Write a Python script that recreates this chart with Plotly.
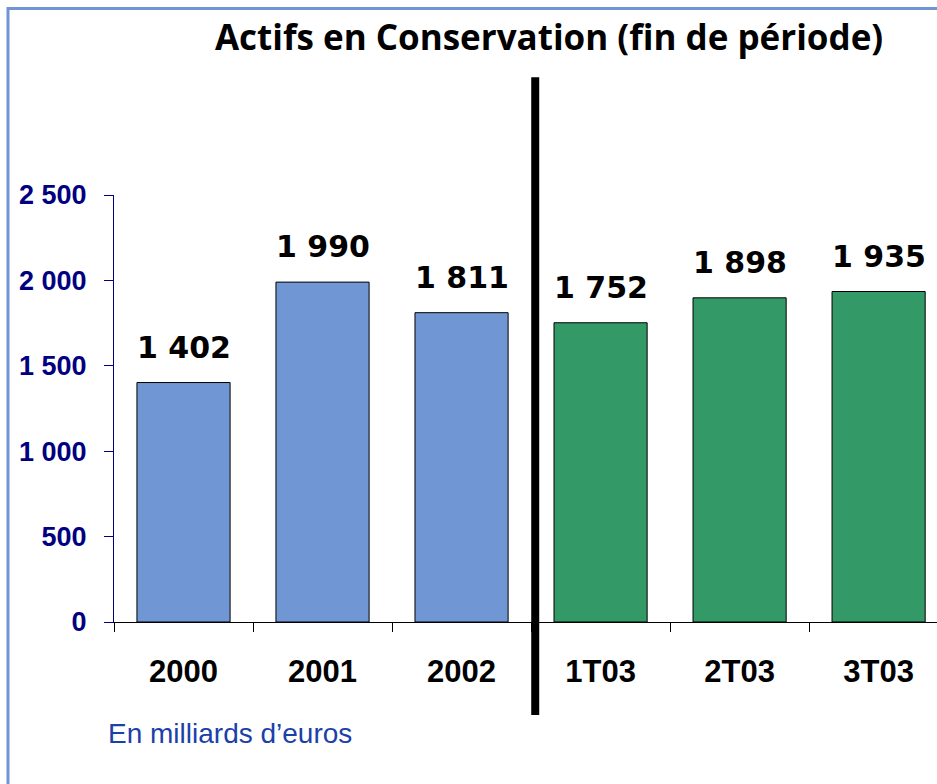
import plotly.graph_objects as go

# data
periods = ["2000", "2001", "2002", "1T03", "2T03", "3T03"]
assets = [1402, 1990, 1811, 1752, 1898, 1935]
bar_colors = ["#7096D4"] * 3 + ["#339966"] * 3
y_ticks = [0, 500, 1000, 1500, 2000, 2500]
y_tick_text = ["0", "500", "1 000", "1 500", "2 000", "2 500"]
value_text = ["1 402", "1 990", "1 811", "1 752", "1 898", "1 935"]

fig = go.Figure()

fig.add_trace(go.Bar(
    x=periods, y=assets, width=0.67,
    marker=dict(color=bar_colors, line=dict(color="black", width=1)),
    showlegend=False, hoverinfo="skip"
))

# value labels above bars (category index as x, names like "2000" would be read as numbers)
for i, (v, t) in enumerate(zip(assets, value_text)):
    fig.add_annotation(
        x=i, y=v, text=t, showarrow=False, yanchor="bottom", yshift=16,
        font=dict(family="DejaVu Sans", size=30, color="black", weight="bold")
    )

# separator between years and quarters
fig.add_shape(type="line", xref="x", yref="paper", x0=2.53, x1=2.53,
              y0=-0.218, y1=1.276, line=dict(color="black", width=8))

# light blue frame (top and left edges only are inside the picture)
frame = dict(color="#7094D4", width=3)
fig.add_shape(type="rect", xref="paper", yref="paper", x0=-0.1288, x1=1.2,
              y0=-0.5, y1=1.437, line=frame, fillcolor="rgba(0,0,0,0)", layer="above")

fig.add_annotation(
    xref="paper", yref="paper", x=-0.01, y=-0.22, xanchor="left", yanchor="top",
    text="En milliards d\u2019euros", showarrow=False,
    font=dict(family="Liberation Sans", size=28, color="#1C3FAA")
)

fig.update_layout(
    width=937, height=784,
    margin=dict(l=114, r=0, t=195, b=162),
    paper_bgcolor="white", plot_bgcolor="white",
    title=dict(text="<b>Actifs en Conservation (fin de période)</b>",
               x=0.586, xanchor="center", y=0.952, yanchor="middle",
               font=dict(family="Open Sans", size=35, color="black")),
    bargap=0.33,
)

fig.update_xaxes(
    type="category", range=[-0.5, 5.42], showline=True, linecolor="black", linewidth=1,
    ticks="outside", tickson="boundaries", ticklen=9, tickcolor="black",
    tickfont=dict(family="Liberation Sans", size=31, color="black", weight="bold"),
    ticklabelstandoff=22, showgrid=False, fixedrange=True
)
fig.update_yaxes(
    range=[0, 2500], tickvals=y_ticks, ticktext=y_tick_text,
    showline=True, linecolor="#000080", linewidth=1,
    ticks="outside", ticklen=9, tickcolor="#000080",
    tickfont=dict(family="Liberation Sans", size=27, color="#000080", weight="bold"),
    ticklabelstandoff=12, showgrid=False, zeroline=False, fixedrange=True
)

fig.write_html("out.html", config={"displayModeBar": False},
               post_script="document.body.style.margin='0';")
